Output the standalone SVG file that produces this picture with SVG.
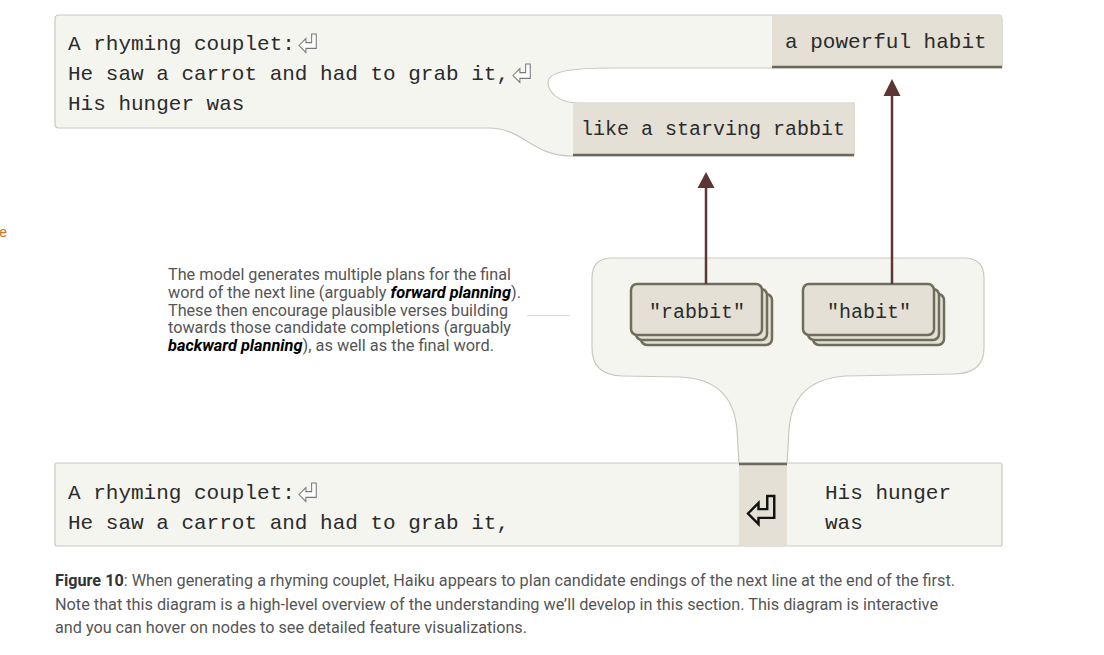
<svg xmlns="http://www.w3.org/2000/svg" xmlns:xlink="http://www.w3.org/1999/xlink" width="1104" height="655" viewBox="0 0 1104 655">
<style>
.panel{fill:#f5f5f0;stroke:#c9c8bf;stroke-width:1.2}
.tok{fill:#e5e0d5}
.under{stroke:#6b6a5a;stroke-width:2.5}
.mono{font-family:"Liberation Mono","DejaVu Sans Mono",monospace;fill:#2b2b2b}
.card{fill:#e5e0d5;stroke:#6f6d5c;stroke-width:2.5}
.arrow{stroke:#5c3535;stroke-width:2.5;fill:none}
.head{fill:#5c3535}
.note{font-family:Roboto,"Liberation Sans",sans-serif;font-size:16px;fill:#555}
.em{font-weight:bold;font-style:italic;fill:#000}
.cap{font-family:Roboto,"Liberation Sans",sans-serif;font-size:16px;fill:#555}
.ret{fill:#fff;stroke:#777;stroke-width:0.9}
</style>
<defs>
<path id="retIcon" d="M0,10 L6,4 L6,7.5 L11,7.5 L11,0 L15,0 L15,12.5 L6,12.5 L6,16 Z"/>
</defs>

<text x="-1" y="237" style="font-family:Roboto,'Liberation Sans',sans-serif;font-size:15px;fill:#d7791f">e</text>

<g id="top-context">
<path class="panel" d="M59,15 H998 Q1002,15 1002,19 V68 H612 C578,68 549,70 548,82 C548,93 560,103 578,103 H854 V156 H573 C530,156 525,128 488,128 H59 Q55,128 55,124 V19 Q55,15 59,15 Z"/>
<text class="mono" font-size="21" x="68" y="50">A rhyming couplet:</text>
<use href="#retIcon" class="ret" transform="translate(299,34) scale(1.15)"/>
<text class="mono" font-size="21" x="68" y="80">He saw a carrot and had to grab it,</text>
<use href="#retIcon" class="ret" transform="translate(513,64) scale(1.15)"/>
<text class="mono" font-size="21" x="68" y="110">His hunger was</text>
</g>

<g id="completion-habit">
<rect class="tok" x="772" y="15.5" width="229.5" height="52"/>
<line class="under" x1="772" y1="67" x2="1002" y2="67"/>
<text class="mono" font-size="21" x="785" y="48">a powerful habit</text>
</g>

<g id="completion-rabbit">
<rect class="tok" x="573" y="103.5" width="280.5" height="52"/>
<line class="under" x1="573" y1="155" x2="854" y2="155"/>
<text class="mono" font-size="20" x="581" y="135">like a starving rabbit</text>
</g>

<g id="plan-group">
<path class="panel" d="M612,258 H964 Q984,258 984,278 V348 Q984,373 955,374 L845,376 Q792,380 789,430 L787,463 H739 L737,430 Q733,379 680,377 L622,376 Q592,375 592,348 V278 Q592,258 612,258 Z"/>
</g>

<g id="plan-rabbit">
<rect class="card" x="641" y="294" width="131" height="51" rx="6"/>
<rect class="card" x="636" y="289" width="131" height="51" rx="6"/>
<rect class="card" x="631" y="284" width="131" height="51" rx="6"/>
<text class="mono" font-size="20" x="697" y="318" text-anchor="middle">"rabbit"</text>
</g>

<g id="plan-habit">
<rect class="card" x="813" y="294" width="131" height="51" rx="6"/>
<rect class="card" x="808" y="289" width="131" height="51" rx="6"/>
<rect class="card" x="803" y="284" width="131" height="51" rx="6"/>
<text class="mono" font-size="20" x="869" y="318" text-anchor="middle">"habit"</text>
</g>

<g id="bottom-prompt">
<rect class="panel" x="55" y="463" width="947" height="83" rx="2"/>
<rect class="tok" x="739" y="464" width="48" height="81.5"/>
<line class="under" x1="739" y1="464" x2="787" y2="464"/>
<text class="mono" font-size="21" x="68" y="499">A rhyming couplet:</text>
<use href="#retIcon" class="ret" transform="translate(299,483) scale(1.15)"/>
<text class="mono" font-size="21" x="68" y="529">He saw a carrot and had to grab it,</text>
<use href="#retIcon" fill="none" stroke="#111" stroke-width="1.4" transform="translate(748,496) scale(1.75)"/>
<text class="mono" font-size="21" x="825" y="499">His hunger</text>
<text class="mono" font-size="21" x="825" y="529">was</text>
</g>

<g id="connectors">
<line class="arrow" x1="706" y1="284" x2="706" y2="186"/>
<polygon class="head" points="706,172 697.5,188 714.5,188"/>
<line class="arrow" x1="892" y1="284" x2="892" y2="93"/>
<polygon class="head" points="892,79 883.5,96 900.5,96"/>
<line x1="527" y1="315.5" x2="570" y2="315.5" stroke="#dcdcdc" stroke-width="1"/>
</g>

<g id="annotation">
<text class="note" x="168" y="280" textLength="343" lengthAdjust="spacingAndGlyphs">The model generates multiple plans for the final</text>
<text class="note" x="168" y="298" textLength="353" lengthAdjust="spacingAndGlyphs">word of the next line (arguably <tspan class="em">forward planning</tspan>).</text>
<text class="note" x="168" y="316" textLength="340" lengthAdjust="spacingAndGlyphs">These then encourage plausible verses building</text>
<text class="note" x="168" y="333" textLength="343" lengthAdjust="spacingAndGlyphs">towards those candidate completions (arguably</text>
<text class="note" x="168" y="351" textLength="326" lengthAdjust="spacingAndGlyphs"><tspan class="em">backward planning</tspan>), as well as the final word.</text>
</g>

<g id="caption">
<text class="cap" x="55" y="586" textLength="900" lengthAdjust="spacingAndGlyphs"><tspan font-weight="bold" fill="#333">Figure 10</tspan>: When generating a rhyming couplet, Haiku appears to plan candidate endings of the next line at the end of the first.</text>
<text class="cap" x="55" y="610" textLength="883" lengthAdjust="spacingAndGlyphs">Note that this diagram is a high-level overview of the understanding we’ll develop in this section. This diagram is interactive</text>
<text class="cap" x="55" y="633" textLength="472" lengthAdjust="spacingAndGlyphs">and you can hover on nodes to see detailed feature visualizations.</text>
</g>
</svg>
